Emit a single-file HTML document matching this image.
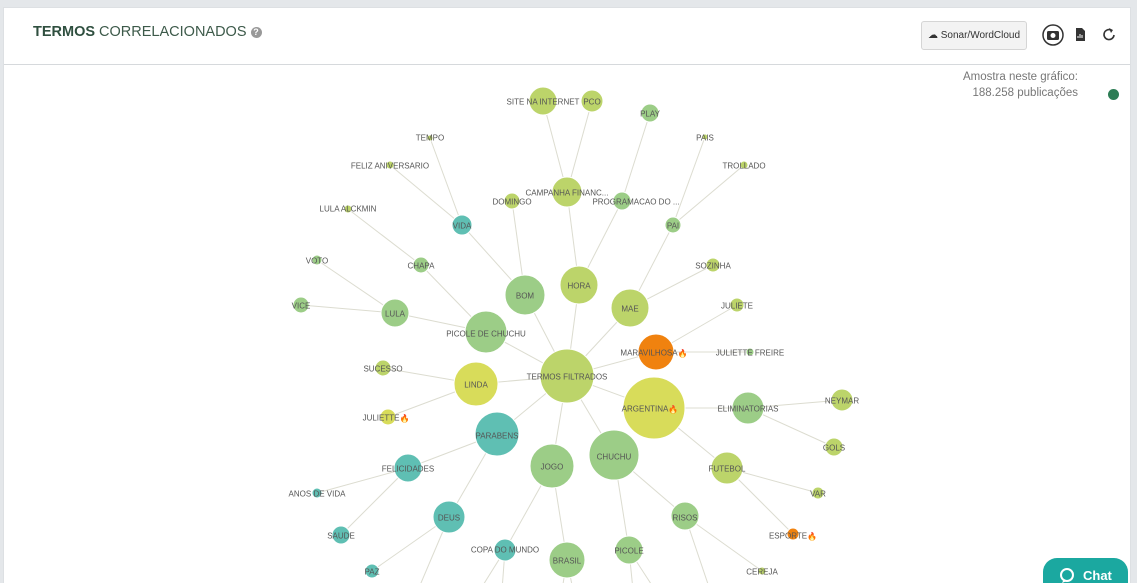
<!DOCTYPE html>
<html><head><meta charset="utf-8"><style>
html,body{margin:0;padding:0;width:1137px;height:583px;overflow:hidden;background:#e4e7ea;font-family:"Liberation Sans",sans-serif;position:relative}
.card{position:absolute;left:3px;top:7px;width:1128px;height:576px;background:#fff;border:1px solid #dde0e3;border-bottom:none;box-sizing:border-box}
.hdr{position:absolute;left:0;top:0;width:1126px;height:56px;border-bottom:1px solid #d6d9dc}
.title{position:absolute;left:29px;top:16px;font-size:14.5px;color:#3d5a4a;letter-spacing:0}
.title b{color:#2f4f3f}
.q{display:inline-block;width:11px;height:11px;border-radius:50%;background:#999;color:#fff;font-size:9px;text-align:center;line-height:11px;font-weight:bold;vertical-align:1px}
.btn{position:absolute;left:917px;top:13px;width:104px;height:27px;border:1px solid #d5d5d5;border-radius:3px;background:#f3f3f3;font-size:10px;color:#333;line-height:27px;text-align:center}
.chat{position:absolute;left:1043px;top:558px;width:85px;height:25px;border-radius:14px 14px 0 0;background:#1ba8a0;color:#fff;font-weight:bold;font-size:13px;overflow:hidden}
</style></head><body>
<div class="card">
<div class="hdr">
<div class="title"><b>TERMOS</b> CORRELACIONADOS <span class="q">?</span></div>
<div class="btn">☁ Sonar/WordCloud</div>
<svg style="position:absolute;left:1037px;top:15px" width="80" height="26">
<circle cx="12" cy="12" r="10" fill="none" stroke="#333" stroke-width="1.5"/><rect x="6" y="8" width="12" height="9" rx="1.5" fill="#333"/><circle cx="12" cy="12.5" r="2.5" fill="#fff"/>
<path d="M35 5h6l3 3v10h-9z" fill="#333"/><path d="M37 15v-2M39 15v-4M41 15v-3" stroke="#fff"/>
<path d="M70 7a5 5 0 1 0 3 5" fill="none" stroke="#333" stroke-width="1.6"/><path d="M68 5l4 2-2 3z" fill="#333"/>
</svg>
</div>
<div style="position:absolute;right:52px;top:61px;font-size:11.5px;color:#777;text-align:right;line-height:16px">Amostra neste gráfico:<br>188.258 publicações</div>
<div style="position:absolute;left:1104px;top:81px;width:11px;height:11px;border-radius:50%;background:#2d7d55"></div>
</div>
<svg style="position:absolute;left:0;top:0" width="1137" height="583" font-family="Liberation Sans,sans-serif" font-size="8" fill="#555">
<g stroke="#dcdcd0" stroke-width="1">
<line x1="567" y1="376" x2="656" y2="352"/><line x1="567" y1="376" x2="654" y2="408"/><line x1="567" y1="376" x2="630" y2="308"/><line x1="567" y1="376" x2="579" y2="285"/><line x1="567" y1="376" x2="525" y2="295"/><line x1="567" y1="376" x2="486" y2="332"/><line x1="567" y1="376" x2="476" y2="384"/><line x1="567" y1="376" x2="497" y2="434"/><line x1="567" y1="376" x2="552" y2="466"/><line x1="567" y1="376" x2="614" y2="455"/>
<line x1="656" y1="352" x2="750" y2="352"/><line x1="656" y1="352" x2="737" y2="305"/>
<line x1="630" y1="308" x2="673" y2="225"/><line x1="630" y1="308" x2="713" y2="265"/><line x1="673" y1="225" x2="705" y2="137"/><line x1="673" y1="225" x2="744" y2="165"/>
<line x1="579" y1="285" x2="567" y2="192"/><line x1="579" y1="285" x2="622" y2="201"/><line x1="567" y1="192" x2="543" y2="101"/><line x1="567" y1="192" x2="592" y2="101"/><line x1="622" y1="201" x2="650" y2="113"/>
<line x1="525" y1="295" x2="512" y2="201"/><line x1="525" y1="295" x2="462" y2="225"/><line x1="462" y1="225" x2="430" y2="138"/><line x1="462" y1="225" x2="390" y2="165"/>
<line x1="486" y1="332" x2="395" y2="313"/><line x1="486" y1="332" x2="421" y2="265"/><line x1="421" y1="265" x2="348" y2="209"/><line x1="395" y1="313" x2="301" y2="305"/><line x1="395" y1="313" x2="317" y2="260"/>
<line x1="476" y1="384" x2="383" y2="368"/><line x1="476" y1="384" x2="388" y2="417"/>
<line x1="497" y1="434" x2="408" y2="468"/><line x1="497" y1="434" x2="449" y2="517"/><line x1="408" y1="468" x2="317" y2="493"/><line x1="408" y1="468" x2="341" y2="535"/><line x1="449" y1="517" x2="372" y2="571"/><line x1="449" y1="517" x2="418" y2="590"/>
<line x1="552" y1="466" x2="505" y2="550"/><line x1="552" y1="466" x2="567" y2="560"/><line x1="505" y1="550" x2="480" y2="590"/><line x1="505" y1="550" x2="502" y2="590"/><line x1="567" y1="560" x2="562" y2="590"/><line x1="567" y1="560" x2="573" y2="590"/>
<line x1="614" y1="455" x2="685" y2="516"/><line x1="614" y1="455" x2="629" y2="550"/><line x1="629" y1="550" x2="633" y2="590"/><line x1="629" y1="550" x2="655" y2="590"/><line x1="685" y1="516" x2="762" y2="571"/><line x1="685" y1="516" x2="710" y2="590"/>
<line x1="654" y1="408" x2="748" y2="408"/><line x1="654" y1="408" x2="727" y2="468"/><line x1="748" y1="408" x2="842" y2="400"/><line x1="748" y1="408" x2="834" y2="447"/><line x1="727" y1="468" x2="818" y2="493"/><line x1="727" y1="468" x2="793" y2="534"/>
</g>
<g stroke="#fff" stroke-width="1">
<circle cx="567" cy="376" r="27" fill="#bcd46a"/><circle cx="654" cy="408" r="31" fill="#d8dc5a"/><circle cx="656" cy="352" r="18" fill="#f0820f"/><circle cx="750" cy="352" r="4" fill="#9ccd87"/><circle cx="737" cy="305" r="7" fill="#bcd46a"/>
<circle cx="630" cy="308" r="19" fill="#bcd46a"/><circle cx="579" cy="285" r="19" fill="#bcd46a"/><circle cx="525" cy="295" r="20" fill="#9ccd87"/><circle cx="486" cy="332" r="21" fill="#9ccd87"/><circle cx="476" cy="384" r="22" fill="#d8dc5a"/>
<circle cx="497" cy="434" r="22" fill="#5fbfb3"/><circle cx="552" cy="466" r="22" fill="#9ccd87"/><circle cx="614" cy="455" r="25" fill="#9ccd87"/><circle cx="748" cy="408" r="16" fill="#9ccd87"/><circle cx="842" cy="400" r="11" fill="#bcd46a"/>
<circle cx="834" cy="447" r="9" fill="#bcd46a"/><circle cx="727" cy="468" r="16" fill="#bcd46a"/><circle cx="818" cy="493" r="6" fill="#bcd46a"/><circle cx="793" cy="534" r="6" fill="#f0820f"/><circle cx="685" cy="516" r="14" fill="#9ccd87"/>
<circle cx="762" cy="571" r="4" fill="#bcd46a"/><circle cx="629" cy="550" r="14" fill="#9ccd87"/><circle cx="567" cy="560" r="18" fill="#9ccd87"/><circle cx="505" cy="550" r="11" fill="#5fbfb3"/><circle cx="449" cy="517" r="16" fill="#5fbfb3"/>
<circle cx="341" cy="535" r="9" fill="#5fbfb3"/><circle cx="372" cy="571" r="7" fill="#5fbfb3"/><circle cx="408" cy="468" r="14" fill="#5fbfb3"/><circle cx="317" cy="493" r="5" fill="#5fbfb3"/><circle cx="383" cy="368" r="8" fill="#bcd46a"/>
<circle cx="388" cy="417" r="8" fill="#d8dc5a"/><circle cx="395" cy="313" r="14" fill="#9ccd87"/><circle cx="301" cy="305" r="8" fill="#9ccd87"/><circle cx="317" cy="260" r="5" fill="#9ccd87"/><circle cx="421" cy="265" r="8" fill="#9ccd87"/>
<circle cx="348" cy="209" r="4" fill="#bcd46a"/><circle cx="462" cy="225" r="10" fill="#5fbfb3"/><circle cx="430" cy="138" r="3" fill="#bcd46a"/><circle cx="390" cy="165" r="4" fill="#bcd46a"/><circle cx="512" cy="201" r="8" fill="#bcd46a"/>
<circle cx="567" cy="192" r="15" fill="#bcd46a"/><circle cx="543" cy="101" r="14" fill="#bcd46a"/><circle cx="592" cy="101" r="11" fill="#bcd46a"/><circle cx="622" cy="201" r="9" fill="#9ccd87"/><circle cx="650" cy="113" r="9" fill="#9ccd87"/>
<circle cx="673" cy="225" r="8" fill="#9ccd87"/><circle cx="705" cy="137" r="3" fill="#bcd46a"/><circle cx="744" cy="165" r="4" fill="#bcd46a"/><circle cx="713" cy="265" r="7" fill="#bcd46a"/>
</g>
<g text-anchor="middle" dominant-baseline="central">
<text x="567" y="377">TERMOS FILTRADOS</text><text x="650" y="409">ARGENTINA<tspan fill="#f0820f">🔥</tspan></text><text x="654" y="353">MARAVILHOSA<tspan fill="#f0820f">🔥</tspan></text><text x="750" y="353">JULIETTE FREIRE</text><text x="737" y="306">JULIETE</text>
<text x="630" y="309">MAE</text><text x="579" y="286">HORA</text><text x="525" y="296">BOM</text><text x="486" y="334">PICOLE DE CHUCHU</text><text x="476" y="385">LINDA</text>
<text x="497" y="436">PARABENS</text><text x="552" y="467">JOGO</text><text x="614" y="457">CHUCHU</text><text x="748" y="409">ELIMINATORIAS</text><text x="842" y="401">NEYMAR</text>
<text x="834" y="448">GOLS</text><text x="727" y="469">FUTEBOL</text><text x="818" y="494">VAR</text><text x="793" y="536">ESPORTE<tspan fill="#f0820f">🔥</tspan></text><text x="685" y="518">RISOS</text>
<text x="762" y="572">CEREJA</text><text x="629" y="551">PICOLE</text><text x="567" y="561">BRASIL</text><text x="505" y="550">COPA DO MUNDO</text><text x="449" y="518">DEUS</text>
<text x="341" y="536">SAUDE</text><text x="372" y="572">PAZ</text><text x="408" y="469">FELICIDADES</text><text x="317" y="494">ANOS DE VIDA</text><text x="383" y="369">SUCESSO</text>
<text x="386" y="418">JULIETTE<tspan fill="#f0820f">🔥</tspan></text><text x="395" y="314">LULA</text><text x="301" y="306">VICE</text><text x="317" y="261">VOTO</text><text x="421" y="266">CHAPA</text>
<text x="348" y="209">LULA ALCKMIN</text><text x="462" y="226">VIDA</text><text x="430" y="138">TEMPO</text><text x="390" y="166">FELIZ ANIVERSARIO</text><text x="512" y="202">DOMINGO</text>
<text x="567" y="193">CAMPANHA FINANC...</text><text x="543" y="102">SITE NA INTERNET</text><text x="592" y="102">PCO</text><text x="636" y="202">PROGRAMACAO DO ...</text><text x="650" y="114">PLAY</text>
<text x="673" y="226">PAI</text><text x="705" y="138">PAIS</text><text x="744" y="166">TROLLADO</text><text x="713" y="266">SOZINHA</text>
</g>
</svg>
<div class="chat"><svg style="position:absolute;left:16px;top:9px" width="18" height="18"><circle cx="8" cy="8" r="6" fill="none" stroke="#fff" stroke-width="2"/><path d="M3 16l2-4 3 2z" fill="#fff"/></svg><span style="position:absolute;left:40px;top:10px">Chat</span></div>
</body></html>
